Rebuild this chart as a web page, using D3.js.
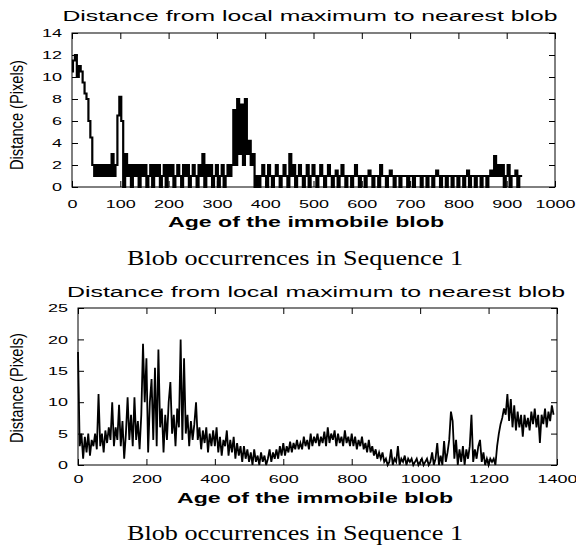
<!DOCTYPE html>
<head>
    <meta charset="utf-8">
    <script src="https://d3js.org/d3.v7.min.js"></script>
    <style>
        body { margin: 0; background: #fff; }
    </style>
</head>

<body>
    <div id="chart"></div>
</body>

<script>

    // ---- data ----
    // sequence 1, first panel: distance per age, one value every 4 frames
    const stepA = 4;
    const distA = [
        10.5, 11.5, 12, 10, 11, 10.5, 9.5, 8.5, 8, 6, 4.5, 2, 1, 2, 1, 2, 1, 2, 1, 2, 1, 3, 1, 2, 6.5,
        8.2, 6, 0, 3, 1, 2, 0, 2, 1, 2, 0, 2, 1, 2, 0, 1, 2, 0, 2, 1, 2, 0, 1, 2, 0,
        2, 1, 2, 0, 1, 2, 1, 0, 2, 1, 2, 0, 1, 2, 1, 0, 2, 1, 3, 0, 2, 1, 2, 0, 1,
        2, 0, 1, 2, 0, 1, 2, 1, 2, 7, 2, 8, 3, 7.5, 2, 8, 3, 4.2, 2, 3, 0, 1, 0, 1, 2,
        1, 0, 2, 1, 0, 1, 2, 1, 0, 1, 2, 1, 0, 3, 1, 2, 0, 1, 2, 1, 0, 1, 2, 0, 1,
        2, 1, 0, 1, 2, 1, 0, 1, 2, 1, 0, 1, 1.5, 0, 1, 2, 1, 0, 1, 1, 0, 1, 2, 1, 0,
        1, 1, 0, 1, 1.5, 1, 0, 1, 1, 0, 2, 1, 1, 0, 1, 1.5, 1, 0, 1, 1, 0, 1, 1, 1, 0,
        1, 1, 0, 1, 1, 1, 0, 1, 1, 0, 1, 1, 0, 1, 1.5, 1, 0, 1, 1, 0, 1, 1, 0, 1, 1,
        0, 1, 1, 0, 1, 1.5, 0, 1, 1, 0, 1, 1, 0, 1, 1, 0, 1, 1.5, 1, 2.8, 1, 2, 1, 2, 0,
        1, 2, 0, 1, 1, 1.5, 0, 1, 1
    ];

    // second panel: one value every 5 frames
    const stepB = 5;
    const distB = [
        18, 3, 5, 1, 4.5, 2, 5, 1.5, 4, 3, 5, 2.5, 11.3, 3, 5, 2, 5.5, 3.5, 6, 4,
        10, 3, 6, 4, 9.6, 3, 7, 1, 5, 10.8, 4, 8, 3, 10.8, 4, 7, 2.5, 8, 19.3, 10,
        17, 2, 10, 13.7, 4, 15.5, 3, 18.4, 6, 9, 2, 8, 4, 10, 13.2, 5, 8, 3, 9, 6,
        20, 4, 17, 5, 8, 3, 7, 4, 6.5, 10, 4, 6, 2.5, 5.5, 3.5, 6, 2, 5, 3, 5.5,
        3, 6, 2, 4.5, 1.5, 4, 3, 5.5, 1.5, 4, 2, 4.5, 1, 3.5, 1.5, 3, 0.5, 3, 1, 2.5,
        0.5, 2, 0, 2.5, 0.5, 1.5, 0, 2, 0.5, 1.5, 0, 1, 2.5, 0.5, 2, 1, 2.5, 1, 3, 1.5,
        3.5, 1.5, 3, 2, 3.7, 2, 3.5, 2.5, 4, 2.5, 3.5, 2.5, 4.5, 3, 4, 2.5, 5, 3, 4.5, 3.5,
        5, 3, 4.5, 3.5, 5.3, 3, 6, 3.5, 5, 4, 5.5, 3, 5, 3.5, 4.5, 3, 5.5, 3.5, 4.5, 3,
        5, 3, 4.5, 2.5, 4, 3, 4.5, 2.5, 3.5, 2, 4, 2, 3, 1.5, 2.5, 1, 2, 1, 2, 0.5,
        1, 0, 0.5, 2.5, 0, 1, 0.5, 3, 0, 1, 0.5, 1.5, 0, 1, 0.5, 1, 0, 0.5, 1, 0,
        0.5, 1, 0, 0.5, 1, 0, 0.5, 2, 0, 1, 3.5, 0, 1.5, 0, 3.8, 0.5, 2, 4, 8.5, 7,
        1, 4, 0, 2.5, 0.5, 3, 0, 2.5, 1, 3, 8, 0.5, 2.5, 1, 3, 4, 0.5, 2, 0, 1,
        0, 1, 0.5, 1, 0, 3, 5, 6.5, 7.5, 9, 8, 11.3, 7, 10.5, 6, 9.5, 5.5, 8.5, 6, 8,
        4.5, 8, 6, 7.5, 5.5, 8.5, 6.5, 9, 6, 8, 3.5, 8, 6.5, 9, 6, 8.5, 7, 9.5, 8
    ];

    const xTicksA = [0, 100, 200, 300, 400, 500, 600, 700, 800, 900, 1000];
    const yTicksA = [0, 2, 4, 6, 8, 10, 12, 14];
    const xTicksB = [0, 200, 400, 600, 800, 1000, 1200, 1400];
    const yTicksB = [0, 5, 10, 15, 20, 25];

    const titleText = "Distance from local maximum to nearest blob";
    const xLabelText = "Age of the immobile blob";
    const yLabelText = "Distance (Pixels)";
    const captionText = "Blob occurrences in Sequence 1";

    // ---- drawing ----
    const svg = d3.select("#chart")
        .append("svg")
            .attr("width", 576)
            .attr("height", 546);

    const sans = "'Liberation Sans', Arial, Helvetica, sans-serif";
    const serif = "'Liberation Serif', 'Times New Roman', serif";

    function panel(p) {
        const x = d3.scaleLinear().domain(p.xDomain).range([p.left, p.right]);
        const y = d3.scaleLinear().domain(p.yDomain).range([p.bottom, p.top]);

        // data line
        svg.append("path")
            .datum(p.values)
            .attr("fill", "none")
            .attr("stroke", "#000")
            .attr("stroke-width", p.lineW)
            .attr("d", d3.line()
                .curve(p.curve)
                .x((d, i) => x(i * p.step))
                .y(d => y(d)));

        // frame
        svg.append("rect")
            .attr("x", p.left).attr("y", p.top)
            .attr("width", p.right - p.left).attr("height", p.bottom - p.top)
            .attr("fill", "none").attr("stroke", "#000").attr("stroke-width", 1);

        const tick = 6;
        const fmt = d3.format("d");

        // bottom axis, inward ticks
        const gx = svg.append("g")
            .attr("transform", `translate(0,${p.bottom})`)
            .call(d3.axisBottom(x).tickValues(p.xTicks).tickFormat(fmt)
                .tickSizeInner(-tick).tickSizeOuter(0).tickPadding(p.xPad));
        // top mirror
        svg.append("g")
            .attr("transform", `translate(0,${p.top})`)
            .call(d3.axisTop(x).tickValues(p.xTicks).tickSizeInner(-tick).tickSizeOuter(0).tickFormat(""));
        // left axis
        const gy = svg.append("g")
            .attr("transform", `translate(${p.left},0)`)
            .call(d3.axisLeft(y).tickValues(p.yTicks).tickFormat(fmt)
                .tickSizeInner(-tick).tickSizeOuter(0).tickPadding(10));
        // right mirror
        svg.append("g")
            .attr("transform", `translate(${p.right},0)`)
            .call(d3.axisRight(y).tickValues(p.yTicks).tickSizeInner(-tick).tickSizeOuter(0).tickFormat(""));

        svg.selectAll(".domain").remove();

        [gx, gy].forEach(g => {
            g.selectAll("text")
                .attr("font-family", sans)
                .attr("font-size", 11.5)
                .attr("fill", "#000")
                .attr("textLength", function() { return this.textContent.length * 10; })
                .attr("lengthAdjust", "spacingAndGlyphs");
        });

        // title
        svg.append("text")
            .attr("x", p.titleX).attr("y", p.titleY)
            .attr("text-anchor", "middle")
            .attr("font-family", sans).attr("font-size", 15.5)
            .attr("textLength", p.titleW).attr("lengthAdjust", "spacingAndGlyphs")
            .text(titleText);

        // x label
        svg.append("text")
            .attr("x", p.xLabelX).attr("y", p.xLabelY)
            .attr("text-anchor", "middle")
            .attr("font-family", sans).attr("font-size", 15).attr("font-weight", "bold")
            .attr("textLength", 276).attr("lengthAdjust", "spacingAndGlyphs")
            .text(xLabelText);

        // y label
        svg.append("text")
            .attr("transform", `translate(23,${p.yLabelY}) rotate(-90)`)
            .attr("text-anchor", "middle")
            .attr("font-family", sans).attr("font-size", 19)
            .attr("textLength", 110).attr("lengthAdjust", "spacingAndGlyphs")
            .text(yLabelText);

        // caption
        svg.append("text")
            .attr("x", 295).attr("y", p.captionY)
            .attr("text-anchor", "middle")
            .attr("font-family", serif).attr("font-size", 21)
            .attr("textLength", 336).attr("lengthAdjust", "spacingAndGlyphs")
            .text(captionText);
    }

    panel({
        values: distA, step: stepA, curve: d3.curveStep, lineW: 2.2,
        xDomain: [0, 1000], yDomain: [0, 14],
        xTicks: xTicksA, yTicks: yTicksA,
        left: 72, right: 555, top: 33, bottom: 187,
        xPad: 13,
        titleX: 310, titleY: 21, titleW: 495,
        xLabelX: 306, xLabelY: 227,
        yLabelY: 115,
        captionY: 265
    });

    panel({
        values: distB, step: stepB, curve: d3.curveLinear, lineW: 1.8,
        xDomain: [0, 1400], yDomain: [0, 25],
        xTicks: xTicksB, yTicks: yTicksB,
        left: 78, right: 557, top: 308, bottom: 465,
        xPad: 10,
        titleX: 316, titleY: 297, titleW: 498,
        xLabelX: 315, xLabelY: 503,
        yLabelY: 388,
        captionY: 540
    });

</script>
</html>
